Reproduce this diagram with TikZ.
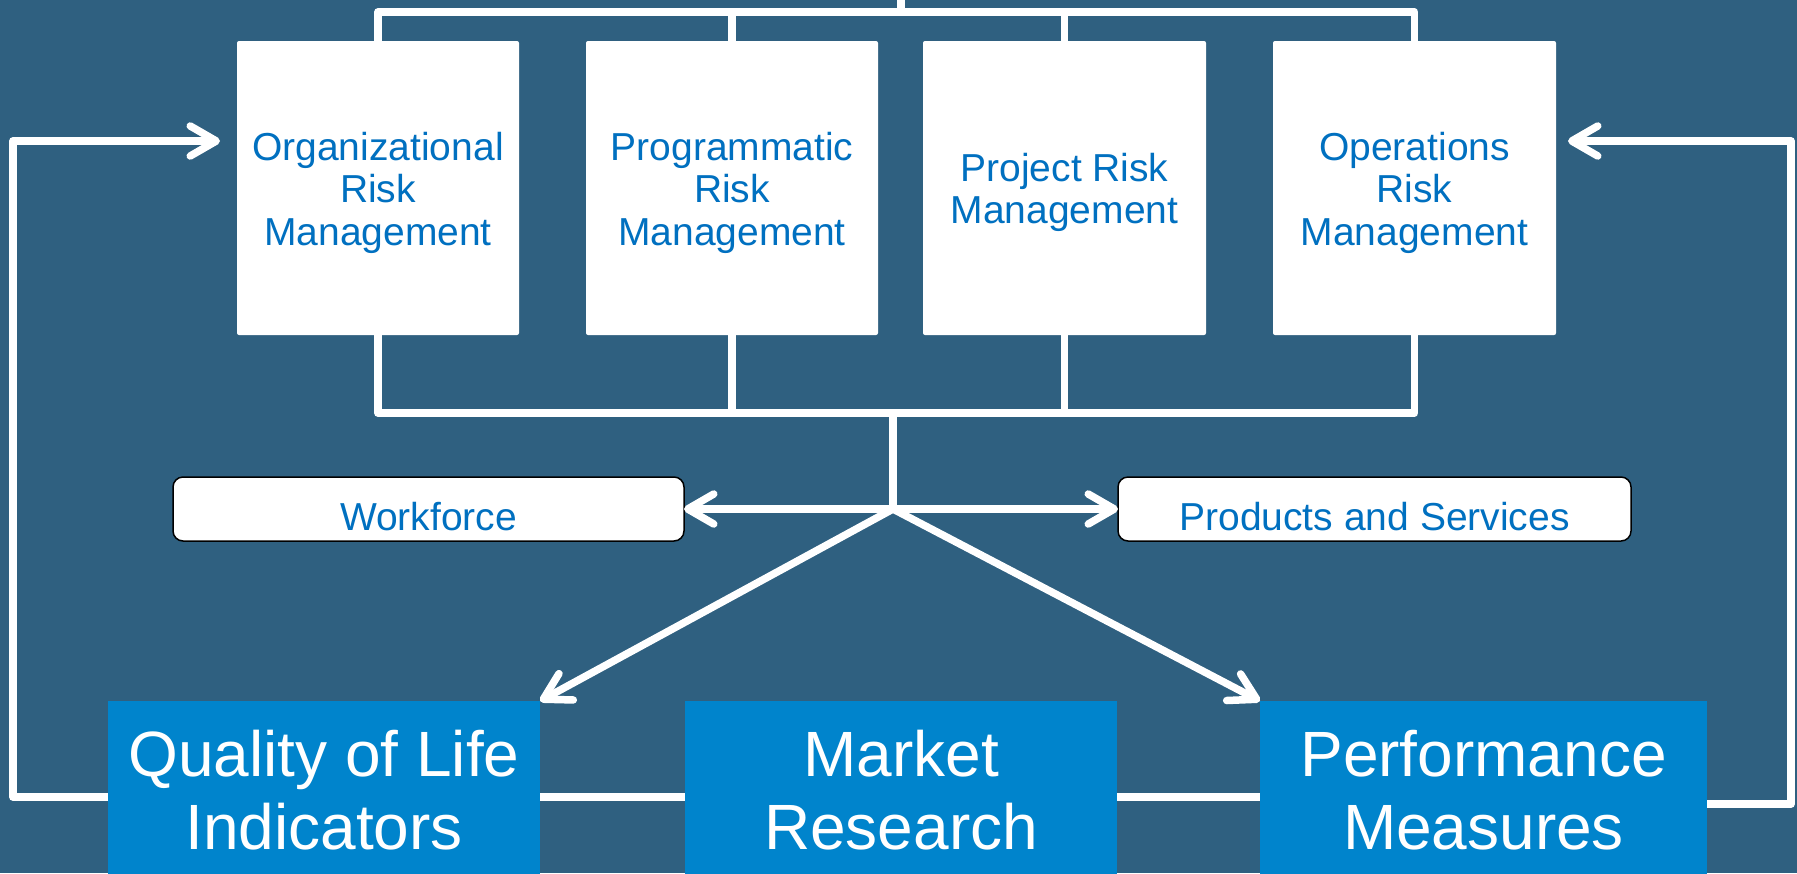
\documentclass[tikz,border=0pt]{standalone}
\usepackage{fontspec}
\setmainfont{Liberation Sans}
\usetikzlibrary{arrows.meta}
\definecolor{bgblue}{RGB}{47,96,128}
\definecolor{boxblue}{RGB}{0,132,204}
\definecolor{txtblue}{RGB}{0,112,192}
\newcommand\rkstrut{\rule{0pt}{18.7pt}}
\begin{document}
\begin{tikzpicture}[x=0.5pt,y=-0.5pt,
  riskbox/.style={rectangle,fill=white,rounded corners=1pt,inner sep=0pt,outer sep=0pt,
    minimum height=147pt,text=txtblue,align=center,font=\fontsize{19.5}{21.25}\selectfont},
  pillbox/.style={rectangle,fill=white,draw=black,line width=0.75pt,rounded corners=5pt,
    inner sep=0pt,outer sep=0pt,minimum height=32pt,text=txtblue,
    font=\fontsize{19.5}{21.25}\selectfont,text height=22pt,text depth=1pt},
  bigbox/.style={rectangle,fill=boxblue,inner sep=0pt,outer sep=0pt,minimum height=89pt,
    text=white,align=center,font=\fontsize{32}{36.5}\selectfont},
  wire/.style={draw=white,line width=3.75pt,line join=round},
  arr/.style={wire,-{Straight Barb[length=13pt,width=15pt,round]}},
  darr/.style={wire,{Straight Barb[length=13pt,width=15pt,round]}-{Straight Barb[length=13pt,width=15pt,round]}}
]
\useasboundingbox (0,0) rectangle (1797,873);
\fill[bgblue] (0,0) rectangle (1797,873);
\clip (0,0) rectangle (1797,873);

% top boxes
\node[riskbox,minimum width=141pt] (org) at (378,188) {\rkstrut Organizational\\Risk\\Management};
\node[riskbox,minimum width=146pt] (prog) at (732,188) {\rkstrut Programmatic\\Risk\\Management};
\node[riskbox,minimum width=141.5pt] (proj) at (1064.5,188) {\rkstrut Project Risk\\Management};
\node[riskbox,minimum width=141.5pt] (ops) at (1414.5,188) {\rkstrut Operations\\Risk\\Management};

% middle boxes
\node[pillbox,minimum width=255.5pt] (wf) at (428.5,509) {Workforce};
\node[pillbox,minimum width=256.5pt] (ps) at (1374.5,509) {Products and Services};

% bottom boxes
\node[bigbox,minimum width=216pt] (qol) at (324,790) {Quality of Life\\Indicators};
\node[bigbox,minimum width=216pt] (mr) at (901,790) {Market\\Research};
\node[bigbox,minimum width=223.5pt] (pm) at (1483.5,790) {Performance\\Measures};

% coordinates
\coordinate (topbus) at (901,12);
\coordinate (topout) at (901,-20);
\coordinate (botbus) at (893,413);
\coordinate (J) at (893,509);
\coordinate (lowL) at (0,797);
\coordinate (lowR) at (0,804);
\coordinate (L1) at (13,797);
\coordinate (L2) at (13,141);
\coordinate (R1) at (1791,804);
\coordinate (R2) at (1791,141);

% top bus
\draw[wire] (org.north) -- (org.north |- topbus) -- (ops.north |- topbus) -- (ops.north);
\draw[wire] (prog.north) -- (prog.north |- topbus);
\draw[wire] (proj.north) -- (proj.north |- topbus);
\draw[wire] (topbus) -- (topout);

% bottom bus
\draw[wire] (org.south) -- (org.south |- botbus) -- (ops.south |- botbus) -- (ops.south);
\draw[wire] (prog.south) -- (prog.south |- botbus);
\draw[wire] (proj.south) -- (proj.south |- botbus);
\draw[wire] (botbus) -- (J);

% junction arrows
\draw[darr] (wf.east) -- (ps.west);
\draw[arr] (J) -- (qol.north east);
\draw[arr] (J) -- (pm.north west);

% bottom links
\draw[wire] (qol.east |- lowL) -- (mr.west |- lowL);
\draw[wire] (mr.east |- lowL) -- (pm.west |- lowL);

% feedback loops
\draw[arr,shorten >=8.5pt] (qol.west |- lowL) -- (L1) -- (L2) -- (org.west |- L2);
\draw[arr,shorten >=6pt] (pm.east |- lowR) -- (R1) -- (R2) -- (ops.east |- R2);
\end{tikzpicture}
\end{document}
